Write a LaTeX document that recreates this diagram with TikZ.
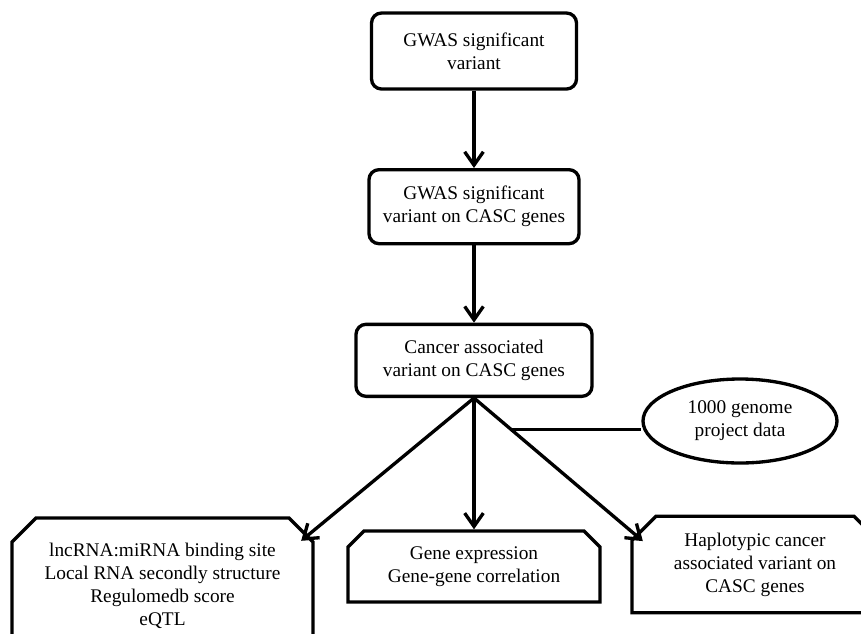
\documentclass[tikz,border=0pt]{standalone}
\usepackage{fontspec}
\setmainfont{Liberation Serif}
\usetikzlibrary{arrows.meta, positioning, calc, shapes.geometric, shapes.misc}

\begin{document}
\begin{tikzpicture}[
  x=0.75pt, y=-0.75pt,
  font=\fontsize{14.5pt}{17.25pt}\selectfont,
  block/.style = {draw, line width=2.5pt, rounded corners=7.5pt, align=center},
  snipbox/.style = {draw, line width=2.5pt, chamfered rectangle,
    chamfered rectangle corners={north west, north east},
    chamfered rectangle xsep=9pt, chamfered rectangle ysep=9pt, align=center},
  datasrc/.style = {draw, line width=2.5pt, ellipse, align=center, inner sep=1pt},
  arrow/.style = {line width=2.5pt, -{Straight Barb[length=10pt,width=14pt]}},
  link/.style = {line width=2.5pt},
  node distance=58pt
]
  \useasboundingbox (0,0) rectangle (861,633);
  \clip (0,0) rectangle (861,633);

  % Main chain
  \node[block, minimum width=153.75pt, minimum height=57pt] (gwas) at (474,51) {GWAS significant\\variant};
  \node[block, below=of gwas, minimum width=157.5pt, minimum height=55.5pt] (gwascasc) {GWAS significant\\variant on CASC genes};
  \node[block, below=of gwascasc, minimum width=177pt, minimum height=54pt] (cancer) {Cancer associated\\variant on CASC genes};

  \draw[arrow] (gwas.south) -- (gwascasc.north);
  \draw[arrow] (gwascasc.south) -- (cancer.north);

  % Analyses
  \node[snipbox, minimum width=225.75pt, minimum height=102pt] (lnc) at (162.5,586)
    {lncRNA:miRNA binding site\\Local RNA secondly structure\\Regulomedb score\\eQTL};
  \node[snipbox, chamfered rectangle xsep=6pt, chamfered rectangle ysep=6pt,
    minimum width=189pt, minimum height=53.25pt] (expr) at (474,566.5)
    {Gene expression\\Gene-gene correlation};
  \node[snipbox, minimum width=184.5pt, minimum height=71.25pt] (hap) at (755,564.5)
    {Haplotypic cancer\\associated variant on\\CASC genes};

  % Reference panel
  \node[datasrc, minimum width=145.5pt, minimum height=63pt] (genome) at (740,421) {1000 genome\\project data};

  \coordinate (lnctip) at ($(lnc.north east)+(-1,12)$);
  \coordinate (haptip) at ($(hap.north west)+(0,14)$);

  \draw[arrow] (cancer.south) -- (lnctip);
  \draw[arrow] (cancer.south) -- (expr.north);
  \draw[arrow] (cancer.south) -- (haptip);

  % 1000 genome joins the haplotype branch
  \coordinate (tap) at ($(cancer.south)!0.22!(haptip)$);
  \draw[link] (tap) -- (tap -| genome.west);

\end{tikzpicture}
\end{document}
